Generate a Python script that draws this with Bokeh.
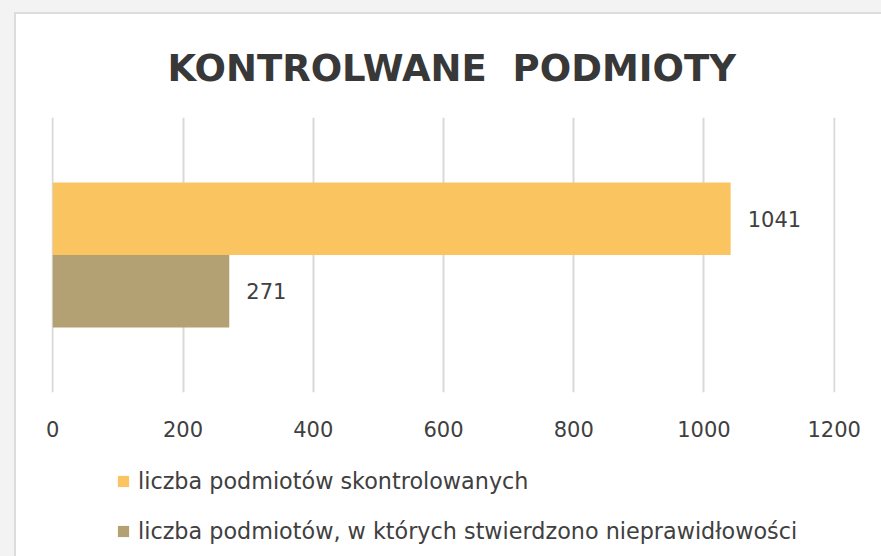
from bokeh.plotting import figure
from bokeh.models import (Range1d, FactorRange, SingleIntervalTicker, Legend, LegendItem,
                          ColumnDataSource, LabelSet)
from bokeh.core.properties import value
from bokeh.transform import dodge
from bokeh.layouts import column
from bokeh.embed import file_html
from bokeh.resources import INLINE

# ---- data ----
categories = ["podmioty"]
series_names = ["liczba podmiotów skontrolowanych",
                "liczba podmiotów, w których stwierdzono nieprawidłowości"]
skontrolowane = [1041]
nieprawidlowosci = [271]
series_colors = ["#FAC560", "#B3A073"]
title_text = "KONTROLWANE\u00a0 PODMIOTY"

FONT = "DejaVu Sans"
TXT = "#404040"

p = figure(width=865, height=442, output_backend="svg", toolbar_location=None,
           x_range=Range1d(-2, 1202),
           y_range=FactorRange(factors=categories, range_padding=0),
           y_axis_location=None, title=title_text,
           min_border_left=35, min_border_right=46, min_border_top=103,
           min_border_bottom=64)
p.background_fill_color = "white"
p.border_fill_color = "white"
p.outline_line_color = None

p.title.align = "left"
p.title.offset = 116
p.title.vertical_align = "middle"
p.title.text_font = FONT
p.title.text_font_size = "37px"
p.title.text_font_style = "bold"
p.title.text_color = "#383838"
p.title.standoff = 53

src = ColumnDataSource(dict(cat=categories, a=skontrolowane, b=nieprawidlowosci,
                            la=[str(v) for v in skontrolowane],
                            lb=[str(v) for v in nieprawidlowosci]))
h = 0.264
p.hbar(y=dodge("cat", h / 2, range=p.y_range), right="a", left=0, height=h,
       source=src, color=series_colors[0], line_color=None)
p.hbar(y=dodge("cat", -h / 2, range=p.y_range), right="b", left=0, height=h,
       source=src, color=series_colors[1], line_color=None)

for col, lab, off in (("a", "la", h / 2), ("b", "lb", -h / 2)):
    ls = LabelSet(x=col, y=dodge("cat", off, range=p.y_range), text=lab, source=src,
                  x_offset=17, text_baseline="middle", text_font=value(FONT),
                  text_font_size=value("21px"), text_color=value(TXT))
    p.add_layout(ls)

p.xaxis.ticker = SingleIntervalTicker(interval=200)
p.xaxis.axis_line_color = None
p.xaxis.major_tick_line_color = None
p.xaxis.minor_tick_line_color = None
p.xaxis.major_tick_out = 0
p.xaxis.major_tick_in = 0
p.xaxis.major_label_standoff = 24
p.xaxis.major_label_text_font = FONT
p.xaxis.major_label_text_font_size = "21px"
p.xaxis.major_label_text_color = TXT
p.xgrid.grid_line_color = "#d9d9d9"
p.xgrid.grid_line_width = 2
p.ygrid.grid_line_color = None

# ---- legend strip (same series, own figure so the legend is not clipped) ----
pl = figure(width=865, height=100, output_backend="svg", toolbar_location=None,
            x_range=Range1d(-2, -1), y_range=FactorRange(factors=categories),
            x_axis_location=None, y_axis_location=None,
            min_border_left=0, min_border_right=0, min_border_top=0, min_border_bottom=0)
pl.background_fill_color = "white"
pl.border_fill_color = "white"
pl.outline_line_color = None
pl.xgrid.visible = False
pl.ygrid.visible = False
l1 = pl.hbar(y="cat", right="a", left=0, height=0, source=src,
             color=series_colors[0], line_color=None)
l2 = pl.hbar(y="cat", right="b", left=0, height=0, source=src,
             color=series_colors[1], line_color=None)
legend = Legend(items=[LegendItem(label=series_names[0], renderers=[l1]),
                       LegendItem(label=series_names[1], renderers=[l2])],
                orientation="vertical", location=(65, 12),
                glyph_width=14, glyph_height=14, label_standoff=8,
                label_text_font=FONT, label_text_font_size="22.3px",
                label_text_color=TXT, label_height=20, spacing=24,
                padding=0, margin=0, border_line_color=None,
                background_fill_alpha=0)
pl.add_layout(legend)

card = column(p, pl, margin=(14, 0, 0, 16),
              styles={"box-shadow": "0 0 0 2px #dcdcdc", "background-color": "white"})
layout = column(card, width=881, height=556, styles={"background-color": "#f3f3f3"})
open("out.html", "w").write(file_html(layout, INLINE))
